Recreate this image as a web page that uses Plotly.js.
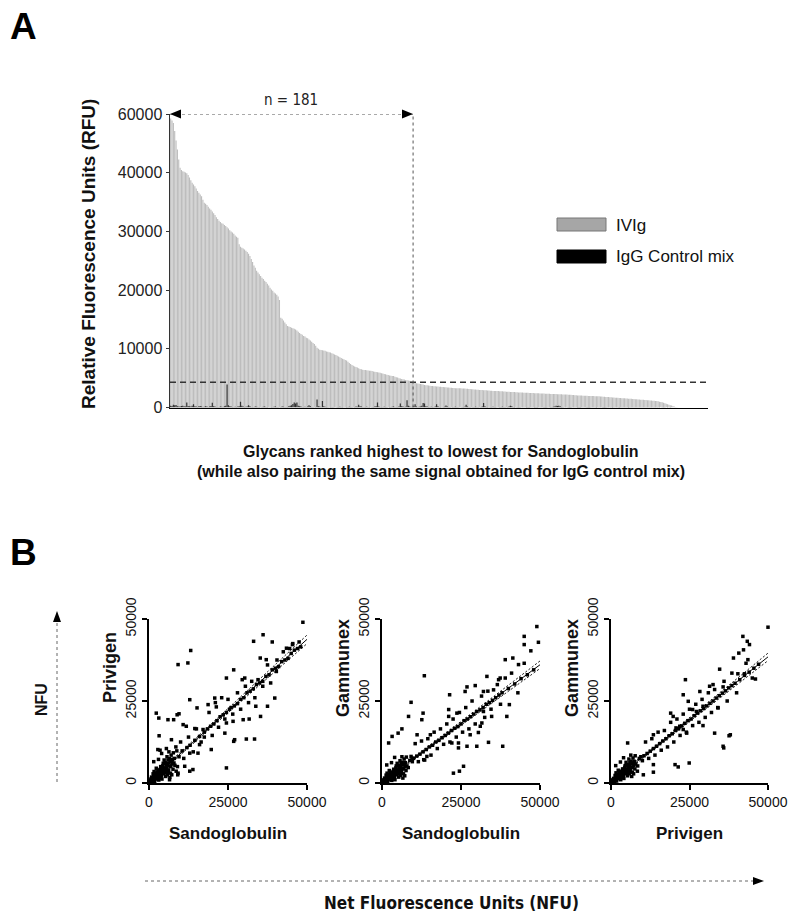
<!DOCTYPE html>
<html><head><meta charset="utf-8">
<script src="https://cdn.plot.ly/plotly-3.0.1.min.js"></script>
<style>html,body{margin:0;padding:0;background:#fff}</style>
</head><body><div id="chart" style="width:800px;height:919px"></div>
<script>
// ---------- Panel A data: glycans ranked by Sandoglobulin (IVIg) signal ----------
const ivig = [
58500,57800,56900,54200,51000,47900,44500,41700,40900,40500,
40300,40100,39900,39600,39200,38700,38300,38000,37700,37300,
36900,36600,36300,36000,35400,34900,34700,34500,34200,33900,
33700,33400,33100,32800,32400,32100,31800,31600,31400,31300,
31100,30900,30700,30500,30200,30000,29800,29600,29300,29100,
28900,27800,27400,27200,27100,26900,26700,26500,26200,25800,
25300,24800,24200,23800,23300,23000,22700,22400,22100,21900,
21600,21400,21100,20800,20400,20100,19900,19600,19400,19200,
18900,18300,15300,15100,14800,14500,14200,13900,13800,13700,
13600,13500,13400,13300,13100,12900,12700,12500,12400,12200,
12100,11900,11800,11600,11400,11200,11000,10800,10500,10200,
10000,9850,9800,9750,9700,9650,9550,9500,9400,9350,
9250,9150,9050,8950,8800,8700,8550,8450,8300,8200,
8100,8000,7800,7600,7400,7250,7100,7000,6900,6800,
6700,6550,6500,6450,6400,6380,6350,6320,6280,6250,
6200,6150,6100,6050,6000,5950,5900,5850,5800,5700,
5650,5600,5550,5450,5400,5380,5350,5250,5150,5100,
5000,4950,4850,4800,4750,4700,4650,4600,4550,4480,
4400,4280,4200,4150,4100,4050,4000,3950,3900,3850,
3800,3780,3750,3720,3680,3650,3620,3600,3580,3560,
3540,3520,3500,3480,3460,3440,3420,3400,3380,3360,
3340,3320,3300,3290,3280,3270,3260,3250,3240,3220,
3200,3180,3160,3140,3120,3100,3080,3060,3040,3020,
3000,2980,2960,2950,2940,2920,2900,2880,2860,2840,
2830,2820,2810,2800,2790,2780,2770,2760,2740,2720,
2700,2690,2680,2660,2640,2630,2620,2600,2580,2570,
2560,2550,2540,2530,2520,2510,2500,2490,2480,2460,
2450,2440,2430,2420,2410,2400,2390,2380,2370,2360,
2350,2340,2330,2320,2310,2300,2290,2280,2270,2260,
2250,2240,2230,2220,2210,2200,2190,2180,2160,2140,
2120,2100,2080,2060,2050,2040,2030,2020,2010,2000,
1990,1980,1970,1960,1950,1940,1930,1920,1910,1900,
1880,1860,1840,1820,1800,1790,1780,1760,1740,1720,
1700,1680,1660,1640,1620,1600,1590,1580,1560,1540,
1520,1500,1490,1480,1460,1440,1420,1400,1380,1360,
1340,1320,1300,1280,1260,1240,1220,1200,1180,1160,
1140,1120,1100,1050,1000,950,880,800,720,640,
560,480,400,320,240,170,100,50];

const iggControl = [
300,250,450,400,420,200,150,180,250,300,
200,180,850,250,200,150,300,550,200,150,
100,200,250,150,100,120,200,150,100,180,
250,800,200,150,100,80,100,150,120,100,
200,300,3900,400,200,150,100,80,120,100,
150,200,1000,300,150,100,120,150,400,200,
100,80,100,150,120,100,80,60,100,120,
150,100,80,60,50,80,100,120,150,100,
80,60,100,150,120,100,80,100,200,300,
400,600,850,700,850,300,200,150,100,80,
120,100,150,400,200,100,80,60,100,1370,
200,150,100,1100,200,120,100,80,60,80,
100,80,60,50,80,100,120,100,80,60,
50,80,100,120,100,80,60,100,150,120,
450,200,150,100,80,100,120,100,80,60,
80,100,150,200,850,150,100,80,100,120,
100,80,60,80,100,120,150,100,80,100,
150,700,200,150,100,120,1250,300,150,100,
120,200,550,150,100,120,150,300,750,700,
200,150,100,80,120,100,80,150,550,200,
100,80,60,100,120,350,150,100,80,60,
80,100,120,100,80,60,50,80,100,120,
450,150,100,80,60,80,100,120,100,80,
60,100,150,750,200,100,80,60,80,100,
120,100,80,60,50,80,100,120,100,80,
60,100,150,300,200,100,80,60,80,100,
80,60,50,40,60,80,100,80,60,50,
60,80,100,80,60,50,40,60,80,100,
80,60,50,80,100,120,150,300,250,300,
200,100,80,60,50,60,80,100,80,60,
50,40,60,80,100,80,60,50,40,60,
80,100,80,60,50,40,60,80,60,50,
40,60,80,100,80,60,50,40,60,80,
60,50,40,60,80,60,50,40,30,50,
60,80,60,50,40,30,50,60,50,40,
30,40,50,60,50,40,30,40,50,40,
30,40,50,40,30,20,30,40,30,20,
30,20,30,20,10,20,10,10];

const cutoffRFU = 4300;          // dashed threshold
const nAbove = 181;              // glycans above threshold
const yTickValsA = [0,10000,20000,30000,40000,60000];
const yTickTextA = ['0','10000','20000','30000','40000','60000'];

// ---------- Panel B data: [x, y] net fluorescence pairs ----------
const sando_vs_privigen = [
[300,200],[500,800],[800,400],[1000,1500],[1200,600],[1500,2200],[1700,1000],[2000,1800],[2200,3000],[2500,1200],
[2700,2500],[3000,4000],[3200,1800],[3500,3000],[3700,5000],[4000,2200],[4200,3800],[4500,6000],[4700,2800],[5000,4500],
[5200,3200],[5500,5500],[5800,2500],[6000,7000],[6200,4000],[6500,5200],[6800,3000],[7000,8500],[7300,5800],[7600,4200],
[800,1800],[1300,2800],[1800,500],[2300,4500],[2800,1600],[3300,2600],[3800,1500],[4300,4800],[4800,7000],[5300,2000],
[5700,8000],[6300,9500],[6700,6500],[7200,2500],[600,1200],[1100,300],[1600,3500],[2100,2300],[2600,3400],[3100,900],
[3600,4200],[4100,1200],[4600,3600],[5100,6200],[5600,4600],[6100,3300],[6600,1700],[7100,6600],[7700,9200],[1500,6500],
[3000,7200],[3500,10000],[4000,9000],[5500,10500],[400,500],[900,900],[1400,1300],[1900,2600],[2400,2000],[2900,3300],
[3400,3700],[3900,3200],[4400,5300],[4900,4000],[5400,3800],[5900,6000],[6400,7400],[6900,5000],[7400,7200],[7900,6100],
[8200,5400],[8600,3600],[9100,2500],[8800,9800],
[48700,49000],[36100,45200],[33100,43200],[39000,43000],[45400,42200],[43500,41100],[13200,40400],[9200,36100],[12300,36600],[26800,34500],
[30300,32000],[24500,32000],[29500,31500],[37100,37600],[35200,38100],[40300,34000],[39800,25900],[37500,23400],[33800,23400],[35300,20300],
[31700,19500],[29800,19300],[12900,25400],[20800,25900],[21300,23200],[18700,23900],[15200,22900],[24500,18300],[26600,18800],[24000,15200],
[27100,13200],[26800,12700],[30800,13400],[33400,13400],[24500,4600],[2300,21300],[3100,19800],[6000,19300],[7800,19300],[8900,20800],
[9500,21100],[3200,14400],[2800,10200],[7100,13200],[10800,17800],[11800,17300],[14500,16600],[17100,16300],[16000,11700],[19700,10200],
[12900,9100],[15500,9100],[11300,5100],[12900,3600],[13900,4100],[9200,3000],[6500,1000],
[8000,7500],[9500,8000],[10500,9800],[12000,10800],[13000,11500],[14500,13000],[16000,14200],[17500,15500],[18500,16500],[19500,17300],
[20500,18000],[21500,19000],[22500,20200],[23500,20800],[24500,21500],[25500,22500],[26000,23000],[27000,23500],[28000,24200],[29000,25500],
[30000,26000],[31000,27500],[32000,28000],[33000,28700],[34000,30000],[35000,30500],[36000,31000],[37000,32500],[38000,33000],[39000,34500],
[40000,35000],[41000,35500],[42000,37000],[43000,37500],[44000,38000],[45000,39500],[46000,40500],[47000,41000],[48000,41500],
[8500,11000],[9000,5000],[10000,12500],[11000,7500],[12500,14000],[14000,9500],[15000,16500],[16500,12500],[17500,14000],[19000,21500],
[20000,14500],[21000,24500],[22000,17000],[23000,26000],[24000,19500],[25000,25500],[26500,21000],[28000,27500],[29000,22500],[30500,29500],
[31500,24500],[32500,31000],[33500,26000],[34500,31500],[36000,29500],[37500,36000],[38500,30500],[40500,37500],[42500,40000],[44500,41000],
[45500,42500],[47500,43000]];

const sando_vs_gammunex = [
[300,300],[500,600],[800,500],[1000,1100],[1200,500],[1500,1800],[1700,900],[2000,1500],[2200,2600],[2500,1000],
[2700,2200],[3000,3300],[3200,1500],[3500,2600],[3700,4200],[4000,1900],[4200,3300],[4500,5200],[4700,2500],[5000,4000],
[5200,2900],[5500,4700],[5800,2300],[6000,6000],[6200,3500],[6500,4400],[6800,2800],[7000,7300],[7300,5000],[7600,3800],
[800,1500],[1300,2400],[1800,400],[2300,3800],[2800,1300],[3300,2200],[3800,1200],[4300,4100],[4800,6000],[5300,1800],
[5700,6800],[6300,8000],[6700,5600],[7200,2200],[600,1000],[1100,200],[1600,3000],[2100,2000],[2600,2900],[3100,800],
[3600,3600],[4100,1000],[4600,3100],[5100,5300],[5600,4000],[6100,2900],[6600,1500],[7100,5700],[7700,7900],[1500,5500],
[3000,6200],[4000,7800],[400,400],[900,800],[1400,1100],[1900,2200],[2400,1700],[2900,2800],[3400,3200],[3900,2800],
[4400,4600],[4900,3400],[5400,3300],[5900,5200],[6400,6300],[6900,4300],[7400,6200],[7900,5200],[8300,4700],[8800,6900],
[9200,8100],[9600,6500],
[49000,47700],[45000,44700],[45000,42200],[49500,42900],[47100,40300],[39000,37600],[41400,38100],[43200,36100],[33200,32500],[36900,31500],
[37400,32000],[13400,32700],[29500,29700],[26900,29300],[26300,27900],[21400,26900],[32100,27900],[35300,28400],[40300,23900],[39500,20300],
[34700,20300],[32100,21800],[31600,18300],[31100,17300],[30500,15400],[27900,14700],[33700,12400],[30000,11200],[26900,11200],[24200,12200],
[38200,11200],[25800,5100],[24500,3600],[22600,3000],[9200,24600],[13000,21300],[12600,19300],[8400,20300],[3200,14200],[5100,15200],
[6300,16500],[2100,12200],[11100,14700],[15300,14700],[21100,20300],[21100,22400],[23700,21300],[22100,12200],[24200,10700],[14200,8100],
[13200,7100],[9500,7600],
[10000,7500],[11000,8200],[12000,8800],[13000,9500],[14000,10200],[15000,11000],[16000,11500],[17000,12500],[18000,13000],[19000,13800],
[20000,14500],[21000,15200],[22000,16000],[23000,16700],[24000,17200],[25000,18000],[26000,19000],[27000,19500],[28000,20200],[29000,21000],
[30000,21800],[31000,22300],[32000,23000],[33000,24000],[34000,24500],[35000,25200],[36000,26000],[37000,26800],[38000,27500],[40000,28800],
[42000,30200],[44000,31800],[46000,33000],[48000,34500],
[10500,12000],[11500,6500],[12500,12800],[13500,7000],[14500,13500],[15500,8500],[16500,15500],[17500,10500],[18500,16500],[19500,11800],
[20500,18000],[21500,12500],[22500,19500],[23500,14000],[24500,21500],[25500,15500],[26500,23000],[27500,16500],[28500,25000],[29500,18000],
[31500,26500],[32500,20000],[33500,28000],[34500,22500],[36500,30000],[37500,24000],[39000,32000],[41000,33500],[43000,27500],[45000,36500]];

const privigen_vs_gammunex = [
[300,200],[500,700],[800,400],[1000,1300],[1200,600],[1500,1900],[1700,1000],[2000,1700],[2200,2700],[2500,1300],
[2700,2300],[3000,3500],[3200,1800],[3500,2800],[3700,4300],[4000,2300],[4200,3400],[4500,5300],[4700,2800],[5000,4200],
[5200,3200],[5500,5000],[5800,2800],[6000,6300],[6200,3900],[6500,4800],[6800,3300],[7000,7600],[7300,5400],[7600,4300],
[800,1400],[1300,2300],[1800,600],[2300,3900],[2800,1500],[3300,2400],[3800,1600],[4300,4400],[4800,6300],[5300,2200],
[5700,7300],[6300,8500],[6700,5900],[7200,2800],[600,1000],[1100,300],[1600,3100],[2100,2100],[2600,3000],[3100,1000],
[3600,3800],[4100,1400],[4600,3500],[5100,5600],[5600,4300],[6100,3300],[6600,2000],[7100,6100],[7700,8300],[1500,5300],
[3000,6400],[4000,7700],[400,500],[900,800],[1400,1200],[1900,2300],[2400,1900],[2900,3000],[3400,3400],[3900,3100],
[4400,4800],[4900,3700],[5400,3700],[5900,5400],[6400,6600],[6900,4700],[7400,6600],[7900,5800],[8500,5200],[9000,7500],
[9500,8000],[10000,6800],
[50000,47500],[42000,44700],[43400,43200],[44100,42200],[42200,40600],[43600,37600],[40700,39600],[39000,38100],[34600,34700],[40400,33300],
[42500,33300],[46000,31700],[23700,31500],[35700,29300],[31400,29500],[32500,30000],[23000,26900],[24600,24900],[28300,27900],[34100,22900],
[27200,21800],[29300,17500],[33000,15200],[37600,14400],[38000,14700],[35700,11200],[35900,10700],[13500,14700],[5300,12200],[19000,21300],
[19800,20300],[20700,16800],[20400,5600],[21400,4900],[24900,6100],[13500,3300],[13500,5600],[10300,2500],[8400,3600],[21900,17300],
[23000,16300],[24100,15200],[29300,23400],[26000,22400],
[10500,8300],[11500,9000],[12500,9700],[13500,10500],[14500,11200],[15500,12000],[16500,12800],[17500,13500],[18500,14400],[19500,15000],
[20500,16000],[21500,16500],[22500,17400],[23500,18200],[24500,19000],[25500,19500],[26500,20500],[27500,21300],[28500,22000],[29500,22700],
[30500,23500],[31500,24300],[32500,25000],[33500,25900],[34500,26600],[35500,27400],[36500,28100],[37500,29000],[38500,29700],[39500,30400],
[41000,31500],[42500,32800],[44000,33800],[45500,35000],[47000,36200],
[11000,12500],[12000,7500],[13000,13500],[14000,8500],[15000,15500],[16000,10000],[17000,16000],[18000,11000],[19000,18500],[20000,12500],
[21000,19500],[22000,14500],[23000,21000],[24000,15500],[25000,22500],[26000,17500],[27000,24000],[28000,18500],[29000,25500],[30000,20000],
[31000,27500],[32000,21500],[33000,28500],[34000,23000],[36000,31000],[37000,25000],[38500,33500],[40000,27500],[43000,36500],[45000,32000]];

// linear fits with 95% bands, read at x = 0, 12000, 50000
const fitX = [0, 12000, 50000];
const fit1 = [300, 10740, 43800], fit1Up = [900, 11200, 45100], fit1Lo = [-300, 10300, 42500];
const fit2 = [300, 8880, 36050],  fit2Up = [800, 9300, 37200],  fit2Lo = [-200, 8450, 34900];
const fit3 = [200, 9380, 38450],  fit3Up = [700, 9800, 39600],  fit3Lo = [-300, 8950, 37300];

// ---------- helpers ----------
const W = 800, H = 919;
const X = p => p / W, Y = p => 1 - p / H;
const FONT = 'Arial, "Liberation Sans", sans-serif';
const NARROW = '"Liberation Sans Narrow", "Arial Narrow", "DejaVu Sans Condensed", Arial, "Liberation Sans", sans-serif';
// compressed top segment of panel A axis (40000 -> 60000 drawn in one tick step)
const brk = v => v <= 40000 ? v : 40000 + (v - 40000) / 2;
const rank = ivig.map((_, i) => i + 1);
const tri = pts => 'M' + pts.map(p => X(p[0]) + ',' + Y(p[1])).join(' L') + ' Z';
const note = (text, px, py, size, extra) => Object.assign({
  text: text, x: X(px), y: Y(py), xref: 'paper', yref: 'paper', showarrow: false,
  xanchor: 'center', yanchor: 'middle', font: {family: FONT, size: size, color: '#111'}
}, extra || {});

const traces = [];
traces.push({type:'bar', x: rank, y: ivig.map(brk), width: 0.85,
  marker:{color:'#bdbdbd', line:{width:0}}, xaxis:'x', yaxis:'y', hoverinfo:'skip'});
traces.push({type:'bar', x: rank, y: iggControl.map(brk), width: 0.9,
  marker:{color:'#333333', line:{width:0}}, xaxis:'x', yaxis:'y', hoverinfo:'skip'});

const panels = [
  {pts: sando_vs_privigen, fit: fit1, up: fit1Up, lo: fit1Lo, ax: '2'},
  {pts: sando_vs_gammunex, fit: fit2, up: fit2Up, lo: fit2Lo, ax: '3'},
  {pts: privigen_vs_gammunex, fit: fit3, up: fit3Up, lo: fit3Lo, ax: '4'}
];
panels.forEach(p => {
  const xa = 'x' + p.ax, ya = 'y' + p.ax;
  traces.push({type:'scatter', mode:'markers', x: p.pts.map(d => d[0]), y: p.pts.map(d => d[1]),
    marker:{symbol:'square', size:3.5, color:'#000'}, xaxis: xa, yaxis: ya, cliponaxis:false, hoverinfo:'skip'});
  traces.push({type:'scatter', mode:'lines', x: fitX, y: p.fit, line:{color:'#000', width:1},
    xaxis: xa, yaxis: ya, hoverinfo:'skip'});
  traces.push({type:'scatter', mode:'lines', x: fitX, y: p.up, line:{color:'#000', width:1, dash:'2px,2px', shape:'spline'},
    xaxis: xa, yaxis: ya, hoverinfo:'skip'});
  traces.push({type:'scatter', mode:'lines', x: fitX, y: p.lo, line:{color:'#000', width:1, dash:'2px,2px', shape:'spline'},
    xaxis: xa, yaxis: ya, hoverinfo:'skip'});
});

const scatterAxis = (dom, anchor, isY) => ({
  domain: dom, anchor: anchor, range: [0, 50000], tickvals: [0, 25000, 50000],
  ticktext: ['0', '25000', '50000'], ticks: 'outside', ticklen: 5, tickwidth: 2, tickcolor: '#000',
  showline: true, linecolor: '#000', linewidth: 2, showgrid: false, zeroline: false,
  tickfont: {family: FONT, size: 14, color: '#111'}, tickangle: isY ? -90 : 0, automargin: false
});

const pyTop = 619, pyBot = 783;
const bx = [[149, 307], [382, 540], [611, 768]];

const layout = {
  width: W, height: H, margin: {l:0, r:0, t:0, b:0}, paper_bgcolor: '#fff', plot_bgcolor: 'rgba(0,0,0,0)',
  showlegend: false, barmode: 'overlay',
  xaxis: {domain: [X(170), X(708)], anchor: 'y', range: [0.5, 401.1], showline: true, linecolor: '#000', linewidth: 1.5,
    showticklabels: false, ticks: '', showgrid: false, zeroline: false, automargin: false},
  yaxis: {domain: [Y(407.5), Y(114)], anchor: 'x', range: [0, brk(60000)],
    tickvals: yTickValsA.map(brk), ticktext: yTickTextA, ticks: 'outside', ticklen: 3, tickcolor: '#333',
    showline: true, linecolor: '#333', linewidth: 1.5, showgrid: false, zeroline: false,
    tickfont: {family: FONT, size: 16, color: '#222'}, automargin: false},
  xaxis2: scatterAxis([X(bx[0][0]), X(bx[0][1])], 'y2', false),
  yaxis2: scatterAxis([Y(pyBot), Y(pyTop)], 'x2', true),
  xaxis3: scatterAxis([X(bx[1][0]), X(bx[1][1])], 'y3', false),
  yaxis3: scatterAxis([Y(pyBot), Y(pyTop)], 'x3', true),
  xaxis4: scatterAxis([X(bx[2][0]), X(bx[2][1])], 'y4', false),
  yaxis4: scatterAxis([Y(pyBot), Y(pyTop)], 'x4', true),
  shapes: [
    {type:'line', xref:'x', yref:'y', x0: 0.5, x1: 401.1, y0: cutoffRFU, y1: cutoffRFU,
      line:{color:'#333', width:1.5, dash:'6px,4px'}},
    {type:'line', xref:'x', yref:'y', x0: nAbove + 0.5, x1: nAbove + 0.5, y0: 0, y1: brk(60000),
      line:{color:'#555', width:1, dash:'dot'}},
    {type:'line', xref:'x', yref:'y', x0: 0.5, x1: nAbove + 0.5, y0: brk(60000), y1: brk(60000),
      line:{color:'#555', width:1, dash:'dot'}},
    {type:'path', xref:'paper', yref:'paper', path: tri([[170,114],[181,109.5],[181,118.5]]), fillcolor:'#000', line:{width:0}},
    {type:'path', xref:'paper', yref:'paper', path: tri([[413,114],[402,109.5],[402,118.5]]), fillcolor:'#000', line:{width:0}},
    {type:'rect', xref:'paper', yref:'paper', x0: X(557), x1: X(606), y0: Y(218), y1: Y(231),
      fillcolor:'#a6a6a6', line:{color:'#777', width:1}},
    {type:'rect', xref:'paper', yref:'paper', x0: X(557), x1: X(606), y0: Y(250), y1: Y(263),
      fillcolor:'#000', line:{color:'#000', width:1}},
    {type:'line', xref:'paper', yref:'paper', x0: X(57), x1: X(57), y0: Y(782), y1: Y(620),
      line:{color:'#666', width:1, dash:'dot'}},
    {type:'path', xref:'paper', yref:'paper', path: tri([[57,611],[53,622],[61,622]]), fillcolor:'#000', line:{width:0}},
    {type:'line', xref:'paper', yref:'paper', x0: X(145), x1: X(755), y0: Y(881), y1: Y(881),
      line:{color:'#666', width:1, dash:'dot'}},
    {type:'path', xref:'paper', yref:'paper', path: tri([[764,881],[753,877],[753,885]]), fillcolor:'#000', line:{width:0}}
  ],
  annotations: [
    note('<b>A</b>', 23, 26, 37, {font:{family:FONT, size:37, color:'#000'}}),
    note('<b>B</b>', 23, 552, 37, {font:{family:FONT, size:37, color:'#000'}}),
    note('n = 181', 291, 100, 15, {font:{family:NARROW, size:15, color:'#222'}}),
    note('<b>Relative Fluorescence Units (RFU)</b>', 88, 254, 19, {textangle:-90}),
    note('<b>Glycans ranked highest to lowest for Sandoglobulin</b>', 441, 451, 16),
    note('<b>(while also pairing the same signal obtained for IgG control mix)</b>', 441, 471, 16),
    note('IVIg', 614, 225, 17, {xanchor:'left'}),
    note('IgG Control mix', 614, 256.5, 17, {xanchor:'left'}),
    note('<b>NFU</b>', 41, 700, 16, {textangle:-90}),
    note('<b>Net Fluorescence Units (NFU)</b>', 452, 903, 17, {font:{family:NARROW, size:17, color:'#111'}}),
    note('<b>Privigen</b>', bx[0][0] - 39, 668, 18, {textangle:-90}),
    note('<b>Gammunex</b>', bx[1][0] - 39, 668, 18, {textangle:-90}),
    note('<b>Gammunex</b>', bx[2][0] - 39, 668, 18, {textangle:-90}),
    note('<b>Sandoglobulin</b>', (bx[0][0] + bx[0][1]) / 2, 833, 17),
    note('<b>Sandoglobulin</b>', (bx[1][0] + bx[1][1]) / 2, 833, 17),
    note('<b>Privigen</b>', (bx[2][0] + bx[2][1]) / 2, 833, 17)
  ]
};

Plotly.newPlot('chart', traces, layout, {staticPlot: true, displayModeBar: false});
</script></body></html>
